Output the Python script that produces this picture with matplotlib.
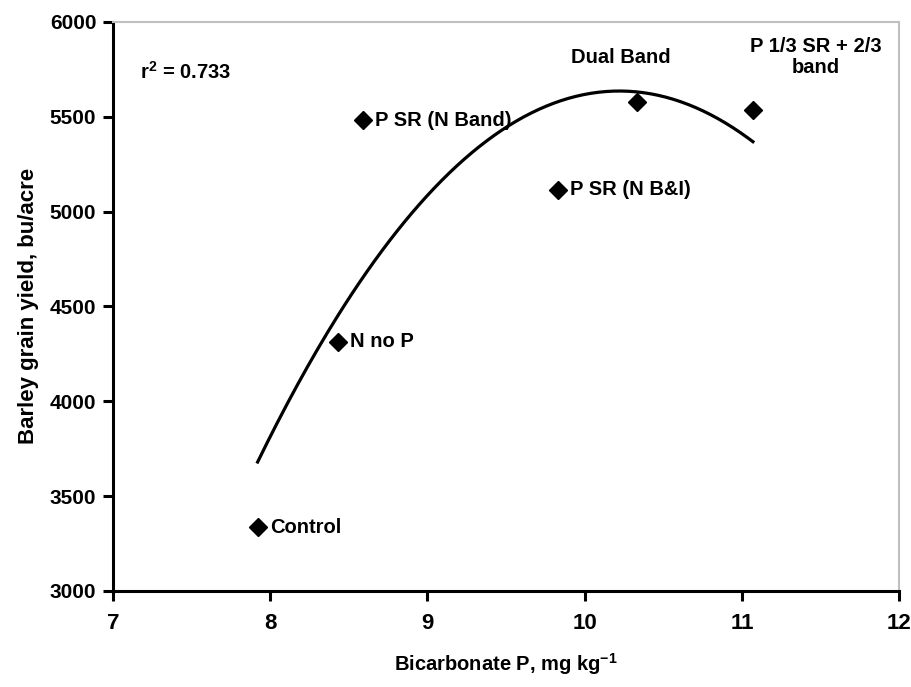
import matplotlib
matplotlib.use('Agg')
import matplotlib.pyplot as plt
import numpy as np
from matplotlib import font_manager

# data
treatments = ['Control', 'N no P', 'P SR (N Band)', 'P SR (N B&I)',
              'Dual Band', 'P 1/3 SR + 2/3\nband']
bicarb_p = np.array([7.92, 8.43, 8.59, 9.83, 10.33, 11.07])
yield_bu = np.array([3336, 4314, 5483, 5114, 5580, 5536])
r2_text = 'r$^2$ = 0.733'

names = {f.name for f in font_manager.fontManager.ttflist}
narrow = 'Liberation Sans Narrow' if 'Liberation Sans Narrow' in names else 'Liberation Sans'
plt.rcParams['font.family'] = ['Liberation Sans', 'DejaVu Sans']
plt.rcParams['mathtext.fontset'] = 'custom'
plt.rcParams['mathtext.bf'] = 'Liberation Sans:bold'
plt.rcParams['mathtext.rm'] = 'Liberation Sans:bold'
plt.rcParams['mathtext.default'] = 'bf'

fig = plt.figure(figsize=(9.11, 6.87), dpi=100)
ax = fig.add_axes([0.124, 0.140, 0.863, 0.828])

# quadratic trend line over the data range
coef = np.polyfit(bicarb_p, yield_bu, 2)
xs = np.linspace(bicarb_p.min(), bicarb_p.max(), 200)
ax.plot(xs, np.polyval(coef, xs), 'k-', lw=2.3, zorder=2)
ax.plot(bicarb_p, yield_bu, 'kD', markersize=9.5, zorder=3)

# point labels (offsets in points)
offs = [(9, 0, 'left', 'center'), (9, 0, 'left', 'center'),
        (9, 0, 'left', 'center'), (9, 0, 'left', 'center'),
        (-11, 32, 'center', 'center'), (45, 38, 'center', 'center')]
for name, x, y, (dx, dy, ha, va) in zip(treatments, bicarb_p, yield_bu, offs):
    ax.annotate(name, (x, y), xytext=(dx, dy), textcoords='offset points',
                ha=ha, va=va, fontsize=14.5, fontweight='bold',
                family=[narrow, 'DejaVu Sans'], linespacing=1.1)

ax.text(0.035, 0.912, r2_text, transform=ax.transAxes, fontsize=14.5,
        fontweight='bold', ha='left', va='center')

ax.set_xlim(7, 12)
ax.set_ylim(3000, 6000)
ax.set_xticks(np.arange(7, 13, 1))
ax.set_yticks(np.arange(3000, 6001, 500))

for s in ['left', 'bottom']:
    ax.spines[s].set_linewidth(2.2)
    ax.spines[s].set_color('black')
for s in ['top', 'right']:
    ax.spines[s].set_linewidth(1.5)
    ax.spines[s].set_color('#c0c0c0')

ax.tick_params(axis='both', direction='out', length=7, width=2.2,
               top=False, right=False)
ax.tick_params(axis='x', pad=9)
ax.tick_params(axis='y', pad=5)
for lab in ax.get_xticklabels():
    lab.set_fontsize(16)
    lab.set_fontweight('bold')
    lab.set_family([narrow, 'DejaVu Sans'])
for lab in ax.get_yticklabels():
    lab.set_fontsize(15)
    lab.set_fontweight('bold')

ax.set_xlabel('Bicarbonate P, mg kg$^{-1}$', fontsize=14.5, fontweight='bold',
              family=[narrow, 'DejaVu Sans'], labelpad=12)
ax.set_ylabel('Barley grain yield, bu/acre', fontsize=16, fontweight='bold',
              family=[narrow, 'DejaVu Sans'], labelpad=8)

fig.savefig('out.png', dpi=100)
